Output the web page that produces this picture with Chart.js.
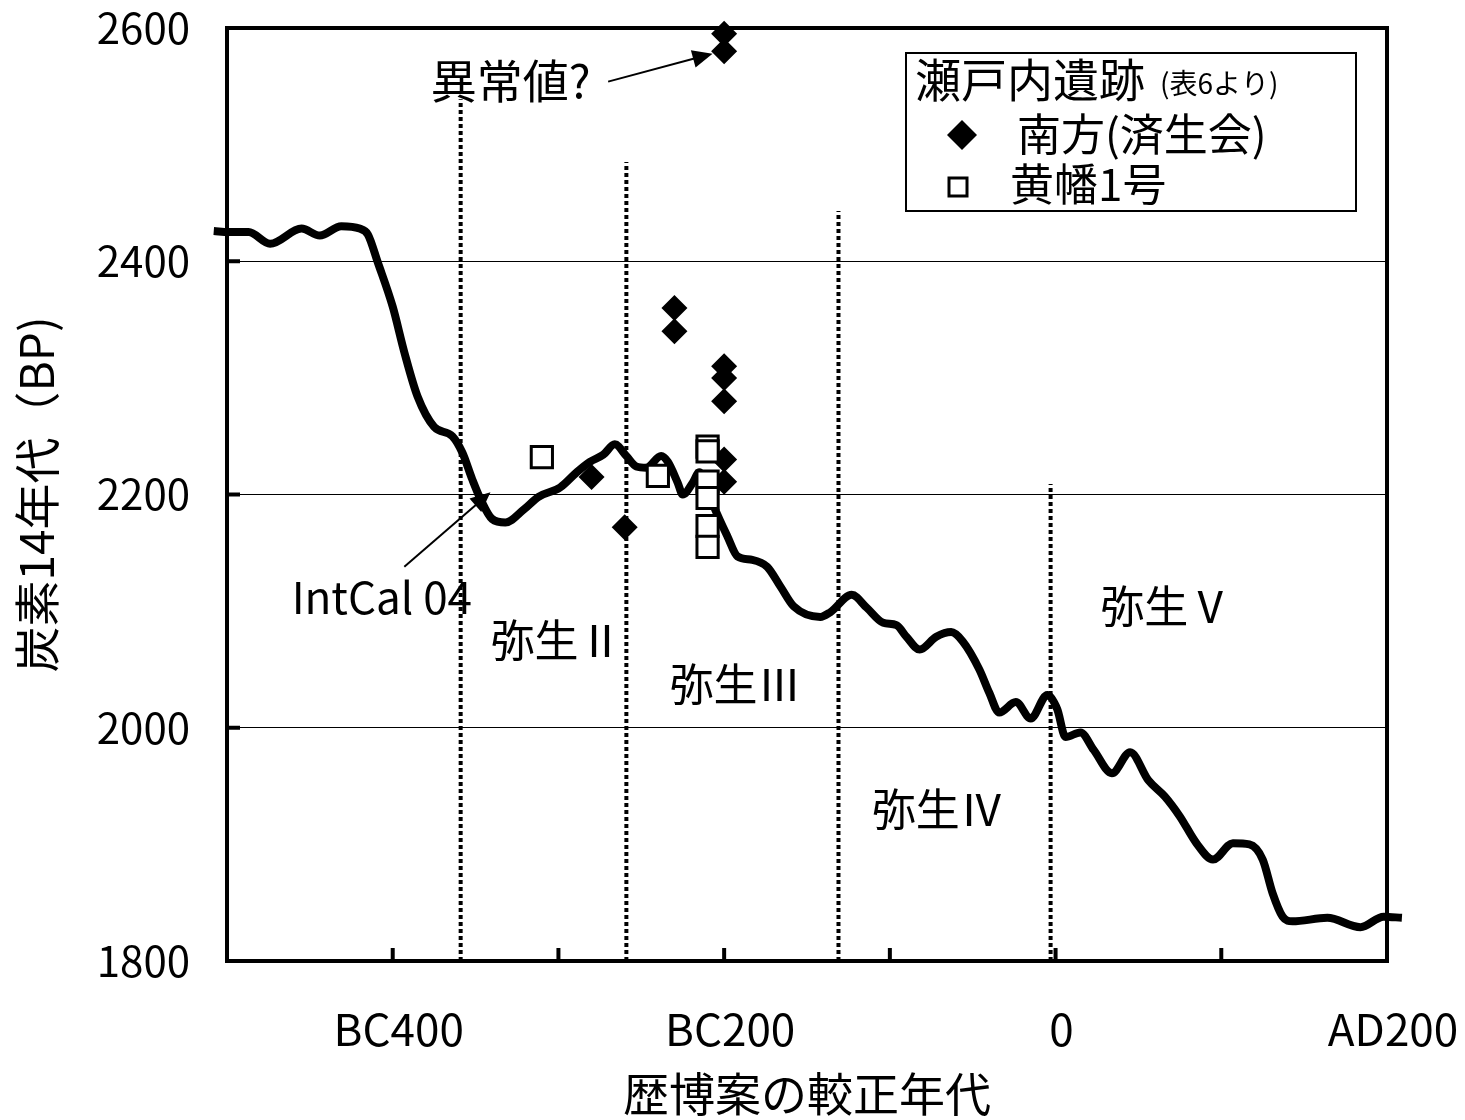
<!DOCTYPE html>
<html lang="ja">
<head>
<meta charset="utf-8">
<title>瀬戸内遺跡 炭素14年代</title>
<script src="https://cdn.jsdelivr.net/npm/chart.js@4.4.1/dist/chart.umd.min.js"></script>
<style>
  html, body { margin: 0; padding: 0; background: #fff; }
</style>
</head>
<body>
<canvas id="c14Chart" width="1465" height="1120"></canvas>
<script>
// IntCal 04 curve (calendar year, negative = BC) and 14C age BP
const curveYears = [-508, -499, -487, -474, -455, -444, -431, -420, -415, -409, -400, -393, -385, -375,
  -364, -358, -352, -347, -340, -332, -321, -312, -299, -289, -281, -273, -266, -259, -253, -247, -238,
  -234, -228, -225, -219, -215, -210, -206, -198, -192, -183, -174, -166, -158, -142, -136, -123, -114,
  -104, -96, -90, -82, -72, -63, -56, -46, -40, -34, -24, -15, -5, 1, 6, 15, 23, 34, 45, 56, 66, 75,
  85, 95, 107, 117, 125, 131, 137, 143, 164, 184, 198, 209];
const curveBP = [2426, 2425, 2425, 2415, 2428, 2422, 2430, 2428, 2423, 2399, 2361, 2322, 2284, 2258,
  2250, 2236, 2213, 2196, 2179, 2176, 2187, 2198, 2206, 2219, 2228, 2234, 2243, 2233, 2224, 2223, 2233,
  2228, 2210, 2200, 2210, 2219, 2204, 2189, 2164, 2147, 2144, 2138, 2121, 2104, 2095, 2099, 2114, 2103,
  2090, 2088, 2078, 2067, 2078, 2082, 2074, 2050, 2030, 2013, 2022, 2008, 2028, 2016, 1992, 1996, 1981,
  1961, 1979, 1955, 1941, 1924, 1901, 1887, 1901, 1900, 1887, 1858, 1838, 1834, 1837, 1829, 1838, 1837];

// 南方(済生会)
const minamiYears = [-200, -200, -230, -230, -200, -200, -200, -200, -200, -280, -260];
const minamiBP = [2595, 2580, 2360, 2340, 2310, 2300, 2280, 2230, 2211, 2215, 2172];

// 黄幡1号
const ohataYears = [-310, -240, -210, -210, -210, -210, -210, -210];
const ohataBP = [2232, 2216, 2241, 2237, 2211, 2197, 2173, 2155];

// 弥生 period boundaries (dotted lines)
const boundaryYears = [-359, -259, -131, -3];
const boundaryTopBP = [2539, 2485, 2443, 2209];

const xTickValues = [-400, -200, 0, 200];
const xTickLabels = ['BC400', 'BC200', '0', 'AD200'];

const FONT = "'Noto Sans CJK JP', 'Noto Sans', sans-serif";

// text notes placed in data coordinates
const notes = [
  { text: '異常値?', x: -377, y: 2555, size: 46 },
  { text: 'IntCal 04', x: -461, y: 2112, size: 44 },
  { text: '弥生Ⅱ', x: -341, y: 2075, size: 44 },
  { text: '弥生Ⅲ', x: -233, y: 2037, size: 44 },
  { text: '弥生Ⅳ', x: -111, y: 1930, size: 44 },
  { text: '弥生Ⅴ', x: 27, y: 2104, size: 44 }
];
const arrows = [
  { from: [-270, 2554], to: [-207, 2578] },
  { from: [-393, 2138], to: [-341, 2202] }
];

function drawArrow(ctx, x1, y1, x2, y2, head) {
  const ang = Math.atan2(y2 - y1, x2 - x1);
  const c = Math.cos(ang), s = Math.sin(ang);
  ctx.beginPath();
  ctx.moveTo(x1, y1);
  ctx.lineTo(x2 - head * 0.8 * c, y2 - head * 0.8 * s);
  ctx.stroke();
  ctx.beginPath();
  ctx.moveTo(x2, y2);
  ctx.lineTo(x2 - head * c + head * 0.45 * s, y2 - head * s - head * 0.45 * c);
  ctx.lineTo(x2 - head * c - head * 0.45 * s, y2 - head * s + head * 0.45 * c);
  ctx.closePath();
  ctx.fill();
}

const extrasPlugin = {
  id: 'extras',
  afterDatasetsDraw(chart) {
    const { ctx, chartArea: a, scales: { x, y } } = chart;
    ctx.save();
    ctx.strokeStyle = '#000';
    ctx.fillStyle = '#000';

    // plot frame
    ctx.lineWidth = 4;
    ctx.strokeRect(a.left, a.top, a.right - a.left, a.bottom - a.top);

    // inward tick marks
    ctx.lineWidth = 4;
    for (let v = -400; v < 200; v += 100) {
      const px = x.getPixelForValue(v);
      ctx.beginPath(); ctx.moveTo(px, a.bottom); ctx.lineTo(px, a.bottom - 13); ctx.stroke();
    }
    for (let v = 2000; v < 2600; v += 200) {
      const py = y.getPixelForValue(v);
      ctx.beginPath(); ctx.moveTo(a.left, py); ctx.lineTo(a.left + 13, py); ctx.stroke();
    }

    // notes
    ctx.textBaseline = 'middle';
    ctx.textAlign = 'left';
    notes.forEach(n => {
      ctx.font = n.size + 'px ' + FONT;
      ctx.fillText(n.text, x.getPixelForValue(n.x), y.getPixelForValue(n.y));
    });

    // arrows
    ctx.lineWidth = 2;
    arrows.forEach(ar => {
      drawArrow(ctx, x.getPixelForValue(ar.from[0]), y.getPixelForValue(ar.from[1]),
        x.getPixelForValue(ar.to[0]), y.getPixelForValue(ar.to[1]), 20);
    });

    // legend box
    const lx = 906, ly = 53, lw = 450, lh = 158;
    ctx.fillStyle = '#fff';
    ctx.fillRect(lx, ly, lw, lh);
    ctx.lineWidth = 2;
    ctx.strokeRect(lx, ly, lw, lh);
    ctx.fillStyle = '#000';
    ctx.font = '46px ' + FONT;
    ctx.fillText('瀬戸内遺跡', lx + 9, ly + 27);
    ctx.font = '28px ' + FONT;
    ctx.fillText('(表6より)', 1160, ly + 30);

    // diamond entry
    const dx = 962, dy = 135, dr = 15;
    ctx.beginPath();
    ctx.moveTo(dx - dr, dy); ctx.lineTo(dx, dy - dr); ctx.lineTo(dx + dr, dy); ctx.lineTo(dx, dy + dr);
    ctx.closePath(); ctx.fill();
    ctx.font = '44px ' + FONT;
    ctx.fillText('南方(済生会)', 1017, 134);

    // square entry
    ctx.lineWidth = 3;
    ctx.strokeRect(949, 178, 18, 18);
    ctx.fillText('黄幡1号', 1010, 184);

    ctx.restore();
  }
};

const curveData = curveYears.map((v, i) => ({ x: v, y: curveBP[i] }));
const dottedSets = boundaryYears.map((v, i) => ({
  label: 'boundary' + i,
  data: [{ x: v, y: 1800 }, { x: v, y: boundaryTopBP[i] }],
  showLine: true,
  borderColor: '#000',
  borderWidth: 4,
  borderDash: [4, 3],
  pointRadius: 0,
  order: 4
}));

new Chart(document.getElementById('c14Chart'), {
  type: 'scatter',
  data: {
    datasets: [
      {
        label: '黄幡1号',
        data: ohataYears.map((v, i) => ({ x: v, y: ohataBP[i] })),
        pointStyle: 'rect',
        pointRadius: 15,
        backgroundColor: '#fff',
        borderColor: '#000',
        borderWidth: 3,
        clip: false,
        order: 0
      },
      {
        label: '南方(済生会)',
        data: minamiYears.map((v, i) => ({ x: v, y: minamiBP[i] })),
        pointStyle: 'rectRot',
        pointRadius: 13,
        backgroundColor: '#000',
        borderColor: '#000',
        borderWidth: 0,
        clip: false,
        order: 1
      },
      {
        label: 'IntCal 04',
        data: curveData,
        showLine: true,
        borderColor: '#000',
        borderWidth: 8,
        pointRadius: 0,
        cubicInterpolationMode: 'monotone',
        clip: false,
        order: 2
      },
      ...dottedSets
    ]
  },
  options: {
    responsive: false,
    animation: false,
    layout: { padding: { top: 28, right: 78, bottom: 0, left: 0 } },
    plugins: {
      legend: { display: false },
      tooltip: { enabled: false }
    },
    scales: {
      x: {
        type: 'linear',
        min: -500,
        max: 200,
        afterFit(scale) {
          scale.height = 159;
          scale.paddingLeft = 0;
          scale.paddingRight = 0;
        },
        grid: { display: false, drawTicks: false },
        border: { display: false },
        ticks: {
          stepSize: 100,
          autoSkip: false,
          maxRotation: 0,
          padding: 42,
          labelOffset: 6,
          color: '#000',
          font: { family: FONT, size: 44 },
          callback: (v) => {
            const i = xTickValues.indexOf(v);
            return i >= 0 ? xTickLabels[i] : '';
          }
        },
        title: {
          display: true,
          text: '歴博案の較正年代',
          color: '#000',
          font: { family: FONT, size: 46, lineHeight: 1 },
          padding: { top: 0, bottom: 3 }
        }
      },
      y: {
        min: 1800,
        max: 2600,
        afterFit(scale) {
          scale.width = 227;
          scale.paddingTop = 0;
          scale.paddingBottom = 0;
        },
        grid: {
          drawTicks: false,
          lineWidth: 1,
          color: (c) => (c.tick && (c.tick.value === 1800 || c.tick.value === 2600)) ? 'rgba(0,0,0,0)' : '#000'
        },
        border: { display: false },
        ticks: {
          stepSize: 200,
          padding: 37,
          color: '#000',
          font: { family: FONT, size: 42 },
          callback: (v) => String(v)
        },
        title: {
          display: true,
          text: '炭素14年代（BP)',
          color: '#000',
          font: { family: FONT, size: 46, lineHeight: 1 },
          padding: { top: 14, bottom: 0 }
        }
      }
    }
  },
  plugins: [extrasPlugin]
});
</script>
</body>
</html>
